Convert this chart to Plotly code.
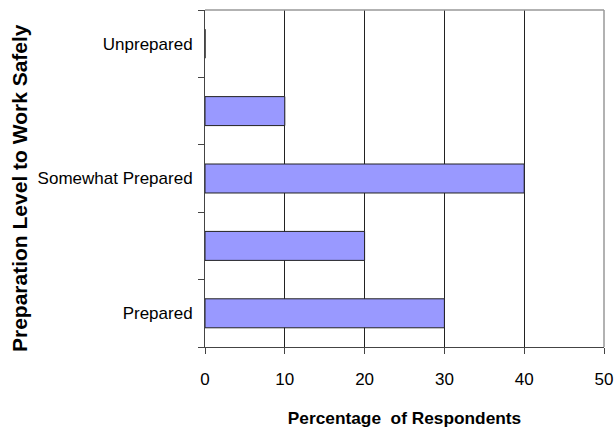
import plotly.graph_objects as go

# Data (bottom to top)
category_keys = ["Prepared", "gap1", "Somewhat Prepared", "gap2", "Unprepared"]
category_labels = ["Prepared", "", "Somewhat Prepared", "", "Unprepared"]
percentages = [30, 20, 40, 10, 0]
x_ticks = [0, 10, 20, 30, 40, 50]

FONT = "Liberation Sans, Arial, sans-serif"

fig = go.Figure(
    go.Bar(
        x=percentages,
        y=category_keys,
        orientation="h",
        marker=dict(color="#9999FF", line=dict(color="#222222", width=1)),
    )
)

fig.update_layout(
    width=616,
    height=430,
    margin=dict(l=205, r=12, t=10, b=83),
    paper_bgcolor="white",
    plot_bgcolor="white",
    bargap=0.57,
    showlegend=False,
    font=dict(family=FONT, size=17, color="#000000"),
)

fig.update_xaxes(
    range=[0, 50],
    tickvals=x_ticks,
    ticktext=[str(v) for v in x_ticks],
    automargin=False,
    showgrid=True,
    gridcolor="#222222",
    gridwidth=1,
    showline=True,
    linecolor="#444444",
    linewidth=1,
    ticks="outside",
    ticklen=6,
    tickcolor="#444444",
    ticklabelstandoff=11,
    zeroline=False,
    tickfont=dict(family=FONT, size=17),
    title=dict(
        text="<b>Percentage  of Respondents</b>",
        font=dict(family=FONT, size=17.3),
        standoff=23,
    ),
)

fig.update_yaxes(
    type="category",
    categoryorder="array",
    categoryarray=category_keys,
    tickvals=category_keys,
    ticktext=category_labels,
    tickson="boundaries",
    automargin=False,
    showgrid=False,
    showline=True,
    linecolor="#444444",
    linewidth=1,
    ticks="outside",
    ticklen=6,
    tickcolor="#444444",
    ticklabelstandoff=8,
    tickfont=dict(family=FONT, size=17),
)

# Y-axis title (placed as an annotation to match the reference's offset)
fig.add_annotation(
    text="<b>Preparation Level to Work Safely</b>",
    xref="paper", yref="paper", x=0, y=0.5,
    xanchor="center", yanchor="middle",
    xshift=-185.5, yshift=-10,
    textangle=-90, showarrow=False,
    font=dict(family=FONT, size=21, color="#000000"),
)

# Plot-area border (top and right), drawn in gray as in the reference
fig.add_shape(type="line", xref="paper", yref="paper", x0=0, x1=1, y0=1, y1=1,
              line=dict(color="#999999", width=1.5))
fig.add_shape(type="line", xref="paper", yref="paper", x0=1, x1=1, y0=0, y1=1,
              line=dict(color="#999999", width=1.5))

fig.write_html("out.html", config={"displayModeBar": False},
               post_script="document.body.style.margin='0';")
